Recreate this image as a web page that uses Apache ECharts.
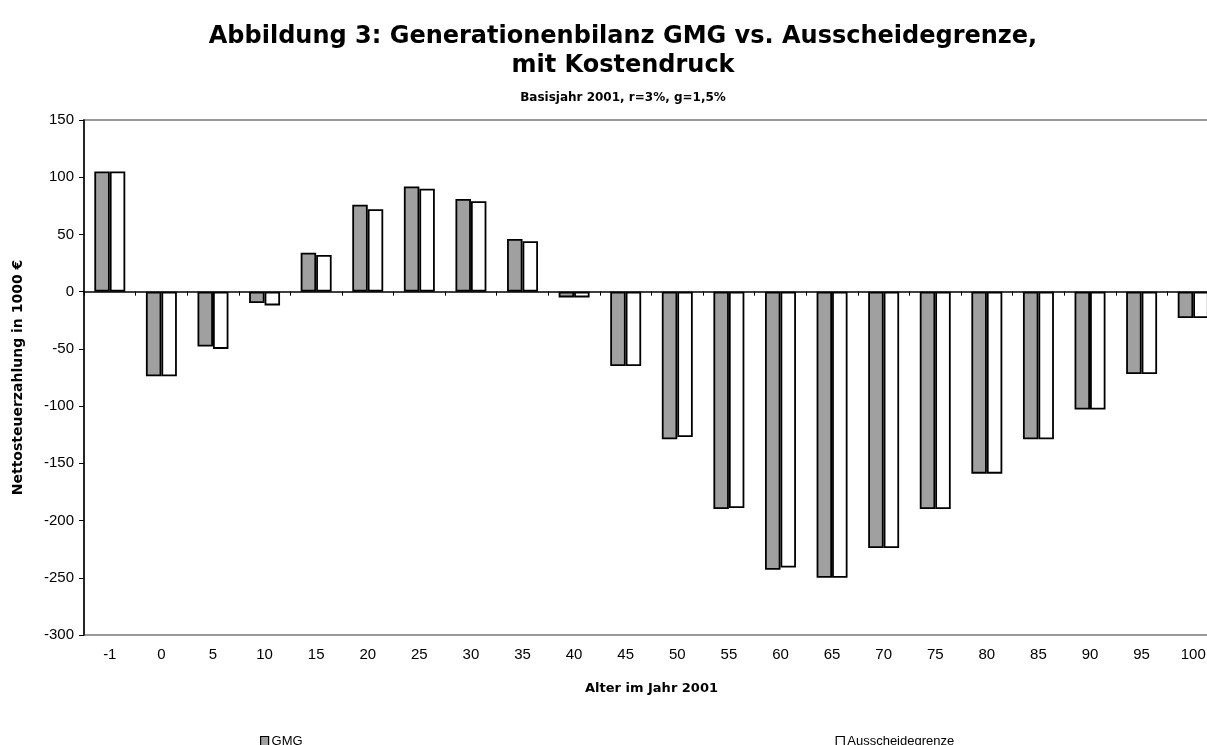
<!DOCTYPE html>
<html>
<head>
<meta charset="utf-8">
<script src="https://cdn.jsdelivr.net/npm/echarts@6/dist/echarts.min.js"></script>
<style>
  html, body { margin: 0; padding: 0; background: #fff; }
  #chart-container { width: 1207px; height: 745px; }
</style>
</head>
<body>
<div id="chart-container"></div>
<script>
// Alter im Jahr 2001
const ages = ['-1', '0', '5', '10', '15', '20', '25', '30', '35', '40', '45',
    '50', '55', '60', '65', '70', '75', '80', '85', '90', '95', '100'];
// Nettosteuerzahlung in 1000 €
const gmg = [105, -74, -48, -10, 34, 76, 92, 81, 46, -5, -65,
    -129, -190, -243, -250, -224, -190, -159, -129, -103, -72, -23];
const ausscheidegrenze = [105, -74, -50, -12, 32, 72, 90, 79, 44, -5, -65,
    -127, -189, -241, -250, -224, -190, -159, -129, -103, -72, -23];
const yTicks = { min: -300, max: 150, step: 50 };

const FONT = '"Liberation Sans", Arial, sans-serif';
const BOLD = '"DejaVu Sans", "Liberation Sans", Arial, sans-serif';

const chart = echarts.init(document.getElementById('chart-container'));
chart.setOption({
    animation: false,
    textStyle: { fontFamily: FONT, color: '#000' },
    title: [
        {
            text: 'Abbildung 3: Generationenbilanz GMG vs. Ausscheidegrenze,\nmit Kostendruck',
            left: 618,
            top: 17,
            textAlign: 'center',
            textStyle: { fontFamily: BOLD, fontSize: 24, fontWeight: 'bold', lineHeight: 29, color: '#000' }
        },
        {
            text: 'Basisjahr 2001, r=3%, g=1,5%',
            left: 618,
            top: 87,
            textAlign: 'center',
            textStyle: { fontFamily: BOLD, fontSize: 12, fontWeight: 'bold', color: '#000' }
        }
    ],
    legend: {
        left: 255,
        top: 730,
        icon: 'rect',
        itemWidth: 8,
        itemHeight: 10,
        itemGap: 533,
        itemStyle: { borderColor: '#000', borderWidth: 1.2 },
        textStyle: { fontFamily: FONT, fontSize: 13, color: '#000', padding: [0, 0, 0, -2] },
        data: ['GMG', 'Ausscheidegrenze']
    },
    grid: {
        left: 84,
        top: 120,
        width: 1135,
        bottom: 110,
        outerBoundsMode: 'none',
        containLabel: false,
        show: true,
        borderColor: '#999',
        borderWidth: 2
    },
    xAxis: [
        {
            type: 'category',
            data: ages,
            axisLine: { onZero: true, lineStyle: { color: '#000', width: 1.5 } },
            axisTick: { show: true, length: 4, lineStyle: { color: '#000' } },
            axisLabel: { show: false }
        },
        {
            type: 'category',
            data: ages,
            position: 'bottom',
            axisLine: { show: false, onZero: false },
            axisTick: { show: false },
            axisLabel: { fontFamily: FONT, fontSize: 15, color: '#000', margin: 12 },
            name: 'Alter im Jahr 2001',
            nameLocation: 'middle',
            nameGap: 47,
            nameTextStyle: { fontFamily: BOLD, fontSize: 13, fontWeight: 'bold', color: '#000' }
        }
    ],
    yAxis: {
        type: 'value',
        min: yTicks.min,
        max: yTicks.max,
        interval: yTicks.step,
        name: 'Nettosteuerzahlung in 1000 €',
        nameLocation: 'middle',
        nameGap: 59,
        nameTextStyle: { fontFamily: BOLD, fontSize: 14, fontWeight: 'bold', color: '#000' },
        axisLine: { show: true, lineStyle: { color: '#000', width: 1.5 } },
        axisTick: { show: true, length: 5, lineStyle: { color: '#000' } },
        axisLabel: { fontFamily: FONT, fontSize: 15, color: '#000', margin: 10 },
        splitLine: { show: false }
    },
    series: [
        {
            name: 'GMG',
            type: 'bar',
            xAxisIndex: 0,
            data: gmg,
            barGap: '0%',
            barCategoryGap: '40%',
            itemStyle: { color: '#a0a0a0', borderColor: '#000', borderWidth: 1.8 }
        },
        {
            name: 'Ausscheidegrenze',
            type: 'bar',
            xAxisIndex: 0,
            data: ausscheidegrenze,
            barGap: '0%',
            barCategoryGap: '40%',
            itemStyle: { color: '#fff', borderColor: '#000', borderWidth: 1.8 }
        }
    ]
});
</script>
</body>
</html>
